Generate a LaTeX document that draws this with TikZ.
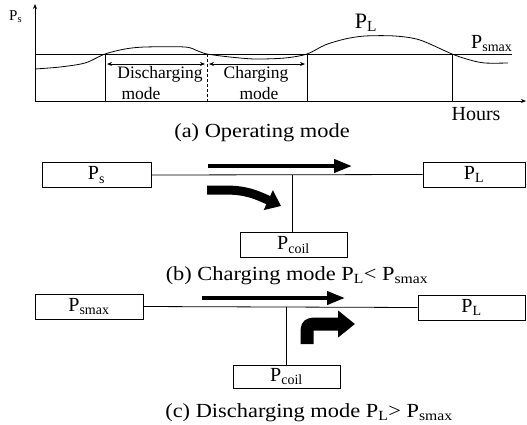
\documentclass[tikz,border=0pt]{standalone}
\usepackage{fontspec}
\setmainfont{Liberation Serif}
\newfontfamily\capfont[FakeStretch=1.12]{Liberation Serif}
\usetikzlibrary{arrows.meta}
\tikzset{
  thinline/.style={line width=0.8pt},
  pbox/.style={draw, line width=0.8pt, rectangle, minimum height=25pt, inner sep=0pt, font=\fontsize{20}{20}\selectfont},
  modetxt/.style={anchor=base, inner sep=0pt, font=\fontsize{17.5}{17.5}\selectfont},
  captxt/.style={anchor=base, inner sep=0pt, font=\capfont\fontsize{20}{20}\selectfont},
  bigarrow/.style={line width=4pt, -{Triangle[length=18pt,width=13pt]}},
}
\begin{document}
\begin{tikzpicture}[x=1pt,y=-1pt]
\useasboundingbox (0,0) rectangle (527,424);
% ---------- panel (a)
\coordinate (org) at (35,101);
\coordinate (ytop) at (35,4);
\coordinate (xend) at (526,101);
\draw[thinline,-{Stealth[length=5pt,width=4pt]}] (org) -- (ytop);
\draw[thinline,-{Stealth[length=5pt,width=4pt]}] (org) -- (xend);
\coordinate (sl) at (35,54);
\coordinate (sr) at (512,54);
\draw[thinline] (sl) -- (sr);
\coordinate (v1t) at (105,54); \coordinate (v1b) at (105,101);
\coordinate (v2t) at (207,54); \coordinate (v2b) at (207,101);
\coordinate (v3t) at (307,54); \coordinate (v3b) at (307,101);
\coordinate (v4t) at (452,54); \coordinate (v4b) at (452,101);
\draw[thinline] (v1t) -- (v1b);
\draw[thinline,dashed,dash pattern=on 3pt off 2pt] (v2t) -- (v2b);
\draw[thinline] (v3t) -- (v3b);
\draw[thinline] (v4t) -- (v4b);
\draw[thinline,{Stealth[length=5pt,width=4pt]}-{Stealth[length=5pt,width=4pt]}] (107,64) -- (205,64);
\draw[thinline,{Stealth[length=5pt,width=4pt]}-{Stealth[length=5pt,width=4pt]}] (209,64) -- (305,64);
\draw[thinline] plot[smooth,tension=0.5] coordinates {(35,69) (60,67) (85,63) (105,54) (125,49) (145,47) (185,47) (198,51) (207,54) (230,57) (255,59) (285,58) (307,54) (325,45) (345,39) (365,36) (395,36) (420,40) (452,54) (470,60) (485,63) (508,63)};
\node[anchor=base west,inner sep=0pt,font=\fontsize{15}{15}\selectfont] (psl) at (9,20) {P\textsubscript{s}};
\node[anchor=base,inner sep=0pt,font=\fontsize{22}{22}\selectfont] (pll) at (366,28) {P\textsubscript{L}};
\node[anchor=base west,inner sep=0pt,font=\fontsize{20}{20}\selectfont] (psm) at (471,48) {P\textsubscript{smax}};
\node[anchor=base,inner sep=0pt,font=\fontsize{20}{20}\selectfont] (hrs) at (476,120) {Hours};
\node[modetxt] (dis) at (160,78) {Discharging};
\node[modetxt] (dism) at (141,99) {mode};
\node[modetxt] (cha) at (256,78) {Charging};
\node[modetxt] (cham) at (259,99) {mode};
\node[captxt] (capa) at (262,137) {(a) Operating mode};
% ---------- panel (b)
\node[pbox,minimum width=109pt] (ps1) at (96.5,175) {P\textsubscript{s}};
\node[pbox,minimum width=102pt] (pl1) at (474,174.5) {P\textsubscript{L}};
\node[pbox,minimum width=107pt] (pc1) at (293.5,245) {P\textsubscript{coil}};
\draw[thinline] (ps1.east) -- (pl1.west);
\coordinate (j1) at (292,174.5);
\draw[thinline] (j1) -- (j1 |- pc1.north);
\coordinate (a1s) at (208,166); \coordinate (a1e) at (352,166);
\draw[bigarrow] (a1s) -- (a1e);
\coordinate (c1s) at (207,190); \coordinate (c1e) at (281,206);
\draw[line width=9pt,-{Triangle[length=14pt,width=21pt]}] (c1s) -- (225,190) .. controls (245,190) and (255,194) .. (c1e);
\node[captxt] (capb) at (297,280) {(b) Charging mode P\textsubscript{L}< P\textsubscript{smax}};
% ---------- panel (c)
\node[pbox,minimum width=108pt] (ps2) at (89,306.5) {P\textsubscript{smax}};
\node[pbox,minimum width=107pt] (pl2) at (471.5,307.5) {P\textsubscript{L}};
\node[pbox,minimum width=107pt,minimum height=23pt] (pc2) at (286.5,376.5) {P\textsubscript{coil}};
\draw[thinline] (ps2.east) -- (pl2.west);
\coordinate (j2) at (286,307);
\draw[thinline] (j2) -- (j2 |- pc2.north);
\coordinate (a2s) at (202,298); \coordinate (a2e) at (345,298);
\draw[bigarrow] (a2s) -- (a2e);
\coordinate (c2s) at (307,344); \coordinate (c2e) at (355,324);
\draw[line width=13pt,-{Triangle[length=17pt,width=26pt]}] (c2s) -- (307,336) .. controls (307,324) .. (322,324) -- (c2e);
\node[captxt] (capc) at (309,417) {(c) Discharging mode P\textsubscript{L}> P\textsubscript{smax}};
\end{tikzpicture}
\end{document}
